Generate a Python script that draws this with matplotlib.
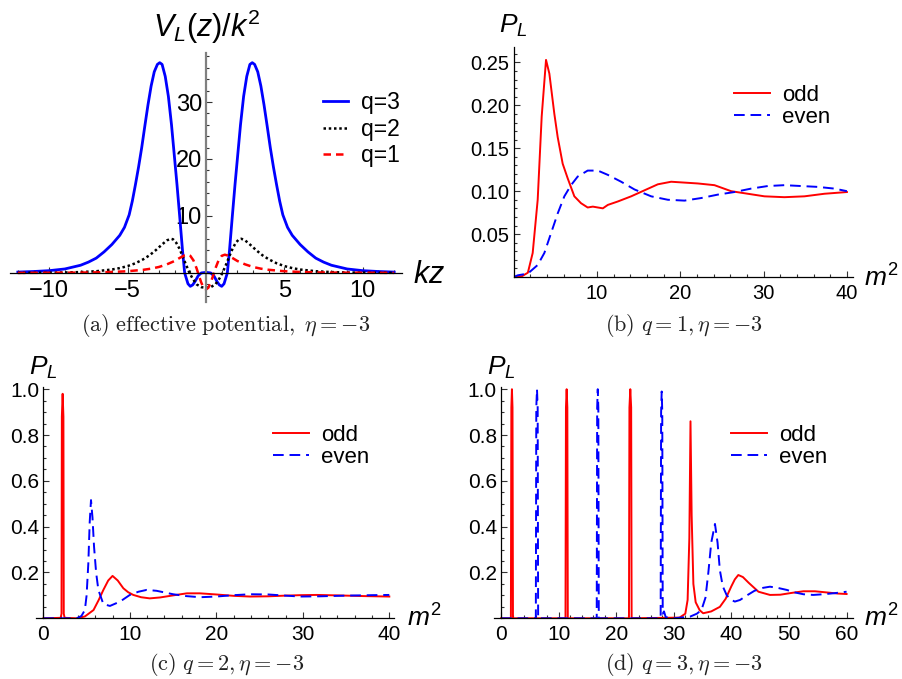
import matplotlib
matplotlib.use("Agg")
import matplotlib.pyplot as plt
from matplotlib.ticker import MultipleLocator, FixedLocator

# ---- (a) effective potential, right half (symmetric in kz) ----
kz_q3 = [0, 0.3, 0.5, 0.7, 0.85, 1.0, 1.15, 1.25, 1.36, 1.5, 1.68, 1.85, 2.0, 2.2, 2.4, 2.6, 2.8, 2.95,
         3.1, 3.3, 3.5, 3.7, 3.9, 4.1, 4.3, 4.5, 4.7, 4.9, 5.2, 5.5, 6.0, 6.5, 7.0, 7.5, 8.0, 9.0, 10, 11, 12]
v_q3 = [0.1, 0.0, -0.5, -1.5, -2.1, -2.35, -1.9, -1.0, 0.0, 4.0, 10.0, 15.5, 20.0, 26.0, 31.0, 34.5, 36.6, 36.9,
        36.6, 35.3, 32.8, 29.5, 25.8, 22.0, 18.6, 15.5, 12.6, 10.2, 8.0, 6.6, 5.0, 3.7, 2.6, 1.9, 1.35, 0.7, 0.4, 0.25, 0.15]
kz_q2 = [0, 0.3, 0.6, 0.85, 1.05, 1.3, 1.5, 1.7, 1.9, 2.1, 2.25, 2.5, 2.8, 3.2, 3.6, 4.0, 4.5, 5.0, 5.5, 6, 7, 8, 9, 10, 12]
v_q2 = [-2.6, -2.5, -2.0, -1.0, 0.0, 1.6, 3.0, 4.3, 5.3, 5.9, 6.0, 5.7, 5.0, 4.0, 3.1, 2.4, 1.7, 1.2, 0.85, 0.6, 0.3, 0.15, 0.08, 0.05, 0.02]
kz_q1 = [0, 0.15, 0.3, 0.45, 0.6, 0.8, 1.0, 1.2, 1.4, 1.7, 2.0, 2.5, 3.0, 3.5, 4, 5, 6, 7, 8, 10, 12]
v_q1 = [-2.9, -2.6, -1.7, -0.5, 0.8, 2.2, 3.0, 3.2, 3.05, 2.6, 2.1, 1.5, 1.05, 0.75, 0.55, 0.3, 0.17, 0.1, 0.06, 0.03, 0.01]

# ---- (b) q=1 ----
m2_b_odd = [0, 1.0, 1.7, 2.28, 2.88, 3.36, 3.88, 4.28, 4.88, 5.28, 5.88, 6.48, 7.28, 8.08, 8.88, 9.5, 10.1, 10.7,
            11.3, 12.5, 14.1, 15.7, 17.3, 18.9, 20.5, 22.1, 24.1, 26.1, 28.1, 30.1, 32.5, 34.9, 37.3, 40]
p_b_odd = [0, 0.001, 0.005, 0.028, 0.09, 0.187, 0.253, 0.237, 0.19, 0.163, 0.132, 0.115, 0.094, 0.086, 0.081, 0.082, 0.081, 0.080,
           0.084, 0.088, 0.094, 0.101, 0.108, 0.111, 0.110, 0.109, 0.107, 0.100, 0.097, 0.094, 0.093, 0.094, 0.097, 0.099]
m2_b_even = [0, 0.5, 1.7, 2.88, 3.68, 4.48, 5.28, 6.08, 6.88, 7.68, 8.88, 10.1, 11.3, 12.9, 14.5, 16.5, 18.5, 20.5,
             22.5, 24.5, 26.5, 28.5, 30.5, 32.5, 34.5, 36.5, 38.5, 40]
p_b_even = [0, 0.002, 0.004, 0.014, 0.028, 0.051, 0.074, 0.094, 0.107, 0.117, 0.124, 0.124, 0.119, 0.111, 0.102, 0.094, 0.090, 0.089,
            0.092, 0.096, 0.099, 0.103, 0.106, 0.107, 0.106, 0.105, 0.103, 0.100]

# ---- (c) q=2 ----
m2_c_odd = [0, 2.0, 2.1, 2.14, 2.23, 2.32, 2.36, 2.46, 3.86, 4.8, 5.8, 6.4, 6.94, 7.5, 8.0, 8.6, 9.25, 9.8, 10.4, 11.3, 12.3, 13.5,
            15.0, 16.6, 18.1, 20.0, 22.0, 23.9, 26.0, 28.0, 29.7, 31.6, 34.0, 37.0, 40]
p_c_odd = [0, 0.002, 0.02, 0.88, 0.98, 0.88, 0.02, 0.002, 0.0, 0.008, 0.036, 0.08, 0.124, 0.165, 0.185, 0.165, 0.131, 0.114, 0.102, 0.092, 0.087, 0.091,
           0.100, 0.109, 0.109, 0.104, 0.098, 0.095, 0.096, 0.099, 0.101, 0.102, 0.100, 0.097, 0.095]
m2_c_even = [0, 3.86, 4.4, 4.8, 5.0, 5.2, 5.36, 5.51, 5.68, 5.86, 6.1, 6.36, 6.94, 7.7, 8.87, 10.0, 11.0, 11.95, 13.1,
             15.0, 16.5, 18.1, 20.0, 22.0, 24.0, 26.0, 28.0, 29.7, 32.0, 35.0, 38.0, 40]
p_c_even = [0, 0.0, 0.01, 0.036, 0.1, 0.24, 0.42, 0.516, 0.44, 0.313, 0.2, 0.124, 0.062, 0.054, 0.073, 0.102, 0.116, 0.124, 0.12,
            0.105, 0.097, 0.092, 0.095, 0.101, 0.105, 0.104, 0.099, 0.095, 0.096, 0.099, 0.101, 0.102]

# ---- (d) q=3 ----
m2_d_odd = [0, 1.72, 1.8, 1.9, 2.0, 2.08,
            11.2, 11.28, 11.4, 11.52, 11.6,
            22.22, 22.3, 22.45, 22.6, 22.68,
            31.0, 32.0, 32.4, 32.7, 32.9, 33.1, 33.4, 33.8, 34.5, 35.1, 36.5, 38.0, 39.0, 40.0, 40.6, 41.2, 42.0,
            43.0, 44.7, 46.7, 48.5, 50.5, 52.5, 54.5, 56.5, 58.5, 60]
p_d_odd = [0, 0, 0.92, 1.0, 0.92, 0,
           0, 0.92, 1.0, 0.92, 0,
           0, 0.92, 1.0, 0.92, 0,
           0.003, 0.02, 0.08, 0.35, 0.86, 0.45, 0.15, 0.07, 0.035, 0.022, 0.03, 0.05, 0.085, 0.14, 0.17, 0.189, 0.18,
           0.155, 0.116, 0.102, 0.103, 0.111, 0.118, 0.118, 0.113, 0.108, 0.106]
m2_d_even = [0, 6.05, 6.13, 6.25, 6.37, 6.45,
             16.62, 16.7, 16.8, 16.9, 16.98,
             27.72, 27.8, 27.9, 28.0, 28.08, 28.3, 28.6,
             30.0, 32.8, 34.0, 34.8, 35.5, 36.0, 36.5, 37.15, 37.6, 38.0, 38.5, 39.2, 40.0, 40.6, 41.5, 42.7, 44.0,
             45.5, 46.7, 48.0, 49.6, 51.0, 52.5, 54.2, 56.0, 58.0, 60]
p_d_even = [0, 0, 0.92, 1.0, 0.92, 0,
            0, 0.92, 1.0, 0.92, 0,
            0, 0.9, 0.99, 0.9, 0.02, 0.03, 0.005,
            0, 0.007, 0.02, 0.036, 0.09, 0.2, 0.33, 0.412, 0.33, 0.21, 0.14, 0.1, 0.08, 0.073, 0.08, 0.1, 0.12,
            0.133, 0.138, 0.133, 0.124, 0.113, 0.105, 0.102, 0.105, 0.11, 0.116]

W, H = 902, 679
plt.rcParams.update({"font.family": ["Liberation Sans", "DejaVu Sans"],
                     "mathtext.fontset": "custom", "mathtext.rm": "Liberation Sans",
                     "mathtext.it": "Liberation Sans:italic", "mathtext.bf": "Liberation Sans:bold"})

RED, BLUE = "#ff0000", "#0000ff"
DASH = (0, (5.5, 3))
CAPFS = 16

fig = plt.figure(figsize=(W / 100, H / 100), dpi=100)

def px(x, y):
    return x / W, 1 - y / H

def make_ax(left, right, top, bottom):
    return fig.add_axes([left / W, 1 - bottom / H, (right - left) / W, (bottom - top) / H])

def style(ax, fs):
    ax.spines["top"].set_visible(False)
    ax.spines["right"].set_visible(False)
    ax.spines["left"].set_position(("data", 0))
    ax.spines["bottom"].set_position(("data", 0))
    for s in ("left", "bottom"):
        ax.spines[s].set_linewidth(0.9)
    ax.tick_params(which="both", direction="in", labelsize=fs, width=0.8, color="#333333")
    ax.tick_params(which="major", length=4)
    ax.tick_params(which="minor", length=2)
    ax.tick_params(axis="x", pad=5)
    ax.tick_params(axis="y", pad=3)
    ax.patch.set_alpha(0)

def neg(v):
    return ("\u2212" + str(abs(v))) if v < 0 else str(v)

# ---------- (a) ----------
ax = make_ax(10, 402, 53, 302)
ax.set_xlim(-12.5, 12.5)
ax.set_ylim(-5.1, 38.6)
style(ax, 17)
ax.spines["left"].set_color("#808080")
ax.spines["left"].set_linewidth(1.6)
for xs, ys, c, ls, lw, lab in [(kz_q3, v_q3, BLUE, "-", 2.0, "q=3"),
                               (kz_q2, v_q2, "black", (0, (1, 1.1)), 1.8, "q=2"),
                               (kz_q1, v_q1, RED, (0, (3, 2)), 1.8, "q=1")]:
    xx = [-v for v in xs[::-1]] + xs[1:]
    yy = ys[::-1] + ys[1:]
    ax.plot(xx, yy, color=c, ls=ls, lw=lw, label=lab)
xt = [-10, -5, 5, 10]
ax.xaxis.set_major_locator(FixedLocator(xt))
ax.set_xticklabels([neg(v) for v in xt])
ax.xaxis.set_minor_locator(MultipleLocator(1))
ax.yaxis.set_major_locator(FixedLocator([10, 20, 30]))
ax.yaxis.set_minor_locator(MultipleLocator(2))
ax.legend(loc="upper left", bbox_to_anchor=px(323, 91), bbox_transform=fig.transFigure,
          frameon=False, fontsize=16.5, handlelength=1.1, handletextpad=0.55, labelspacing=0.16,
          borderpad=0, borderaxespad=0)
fig.text(*px(207, 37), r"$V_L(z)/k^2$", fontsize=22, ha="center", va="baseline")
fig.text(*px(413, 283), r"$kz$", fontsize=22, ha="left", va="baseline")
fig.text(*px(226, 325), r"$\mathrm{(a)\ effective\ potential,}\ \eta=-3$", fontsize=CAPFS,
         ha="center", va="center", math_fontfamily="cm", color="#222222")

# ---------- P_L panels ----------
panels = [
    dict(box=(513.7, 853, 47, 277), xlim=(0, 40.73), ylim=(0, 0.268), fs=14.5,
         odd=(m2_b_odd, p_b_odd), even=(m2_b_even, p_b_even),
         xmaj=[10, 20, 30, 40], xmin=2, ymaj=[0.05, 0.10, 0.15, 0.20, 0.25], ymin=0.01, yfmt="{:.2f}",
         leg=(734, 85), pl=(499, 33), m2=(864, 287), cap=(684, 325, r"$\mathrm{(b)}\ q=1,\eta=-3$")),
    dict(box=(36, 394.5, 386.7, 618.3), xlim=(-0.85, 40.6), ylim=(0, 1.011), fs=15,
         odd=(m2_c_odd, p_c_odd), even=(m2_c_even, p_c_even),
         xmaj=[0, 10, 20, 30, 40], xmin=2, ymaj=[0.2, 0.4, 0.6, 0.8, 1.0], ymin=0.05, yfmt="{:.1f}",
         leg=(273, 425), pl=(29, 375), m2=(407, 627), cap=(227, 664, r"$\mathrm{(c)}\ q=2,\eta=-3$")),
    dict(box=(494.3, 852.7, 386.7, 618.3), xlim=(-1.16, 61.06), ylim=(0, 1.011), fs=15,
         odd=(m2_d_odd, p_d_odd), even=(m2_d_even, p_d_even),
         xmaj=[0, 10, 20, 30, 40, 50, 60], xmin=2, ymaj=[0.2, 0.4, 0.6, 0.8, 1.0], ymin=0.05, yfmt="{:.1f}",
         leg=(731, 425), pl=(487, 375), m2=(864, 627), cap=(684, 664, r"$\mathrm{(d)}\ q=3,\eta=-3$")),
]

for p in panels:
    ax = make_ax(*p["box"])
    ax.set_xlim(*p["xlim"])
    ax.set_ylim(*p["ylim"])
    style(ax, p["fs"])
    ax.plot(*p["odd"], color=RED, lw=1.4, label="odd")
    ax.plot(*p["even"], color=BLUE, lw=1.4, ls=DASH, label="even")
    ax.xaxis.set_major_locator(FixedLocator(p["xmaj"]))
    ax.set_xticklabels([str(v) for v in p["xmaj"]])
    ax.xaxis.set_minor_locator(MultipleLocator(p["xmin"]))
    ax.yaxis.set_major_locator(FixedLocator(p["ymaj"]))
    ax.set_yticklabels([p["yfmt"].format(v) for v in p["ymaj"]])
    ax.yaxis.set_minor_locator(MultipleLocator(p["ymin"]))
    ax.legend(loc="upper left", bbox_to_anchor=px(*p["leg"]), bbox_transform=fig.transFigure,
              frameon=False, fontsize=16, handlelength=1.6, handletextpad=0.55, labelspacing=0.05,
              borderpad=0, borderaxespad=0)
    fig.text(*px(*p["pl"]), r"$P_L$", fontsize=19, ha="left", va="baseline")
    fig.text(*px(*p["m2"]), r"$m^2$", fontsize=19, ha="left", va="baseline")
    cx, cy, cap = p["cap"]
    fig.text(*px(cx, cy), cap, fontsize=CAPFS, ha="center", va="center", math_fontfamily="cm", color="#222222")

fig.savefig("out.png", dpi=100)
